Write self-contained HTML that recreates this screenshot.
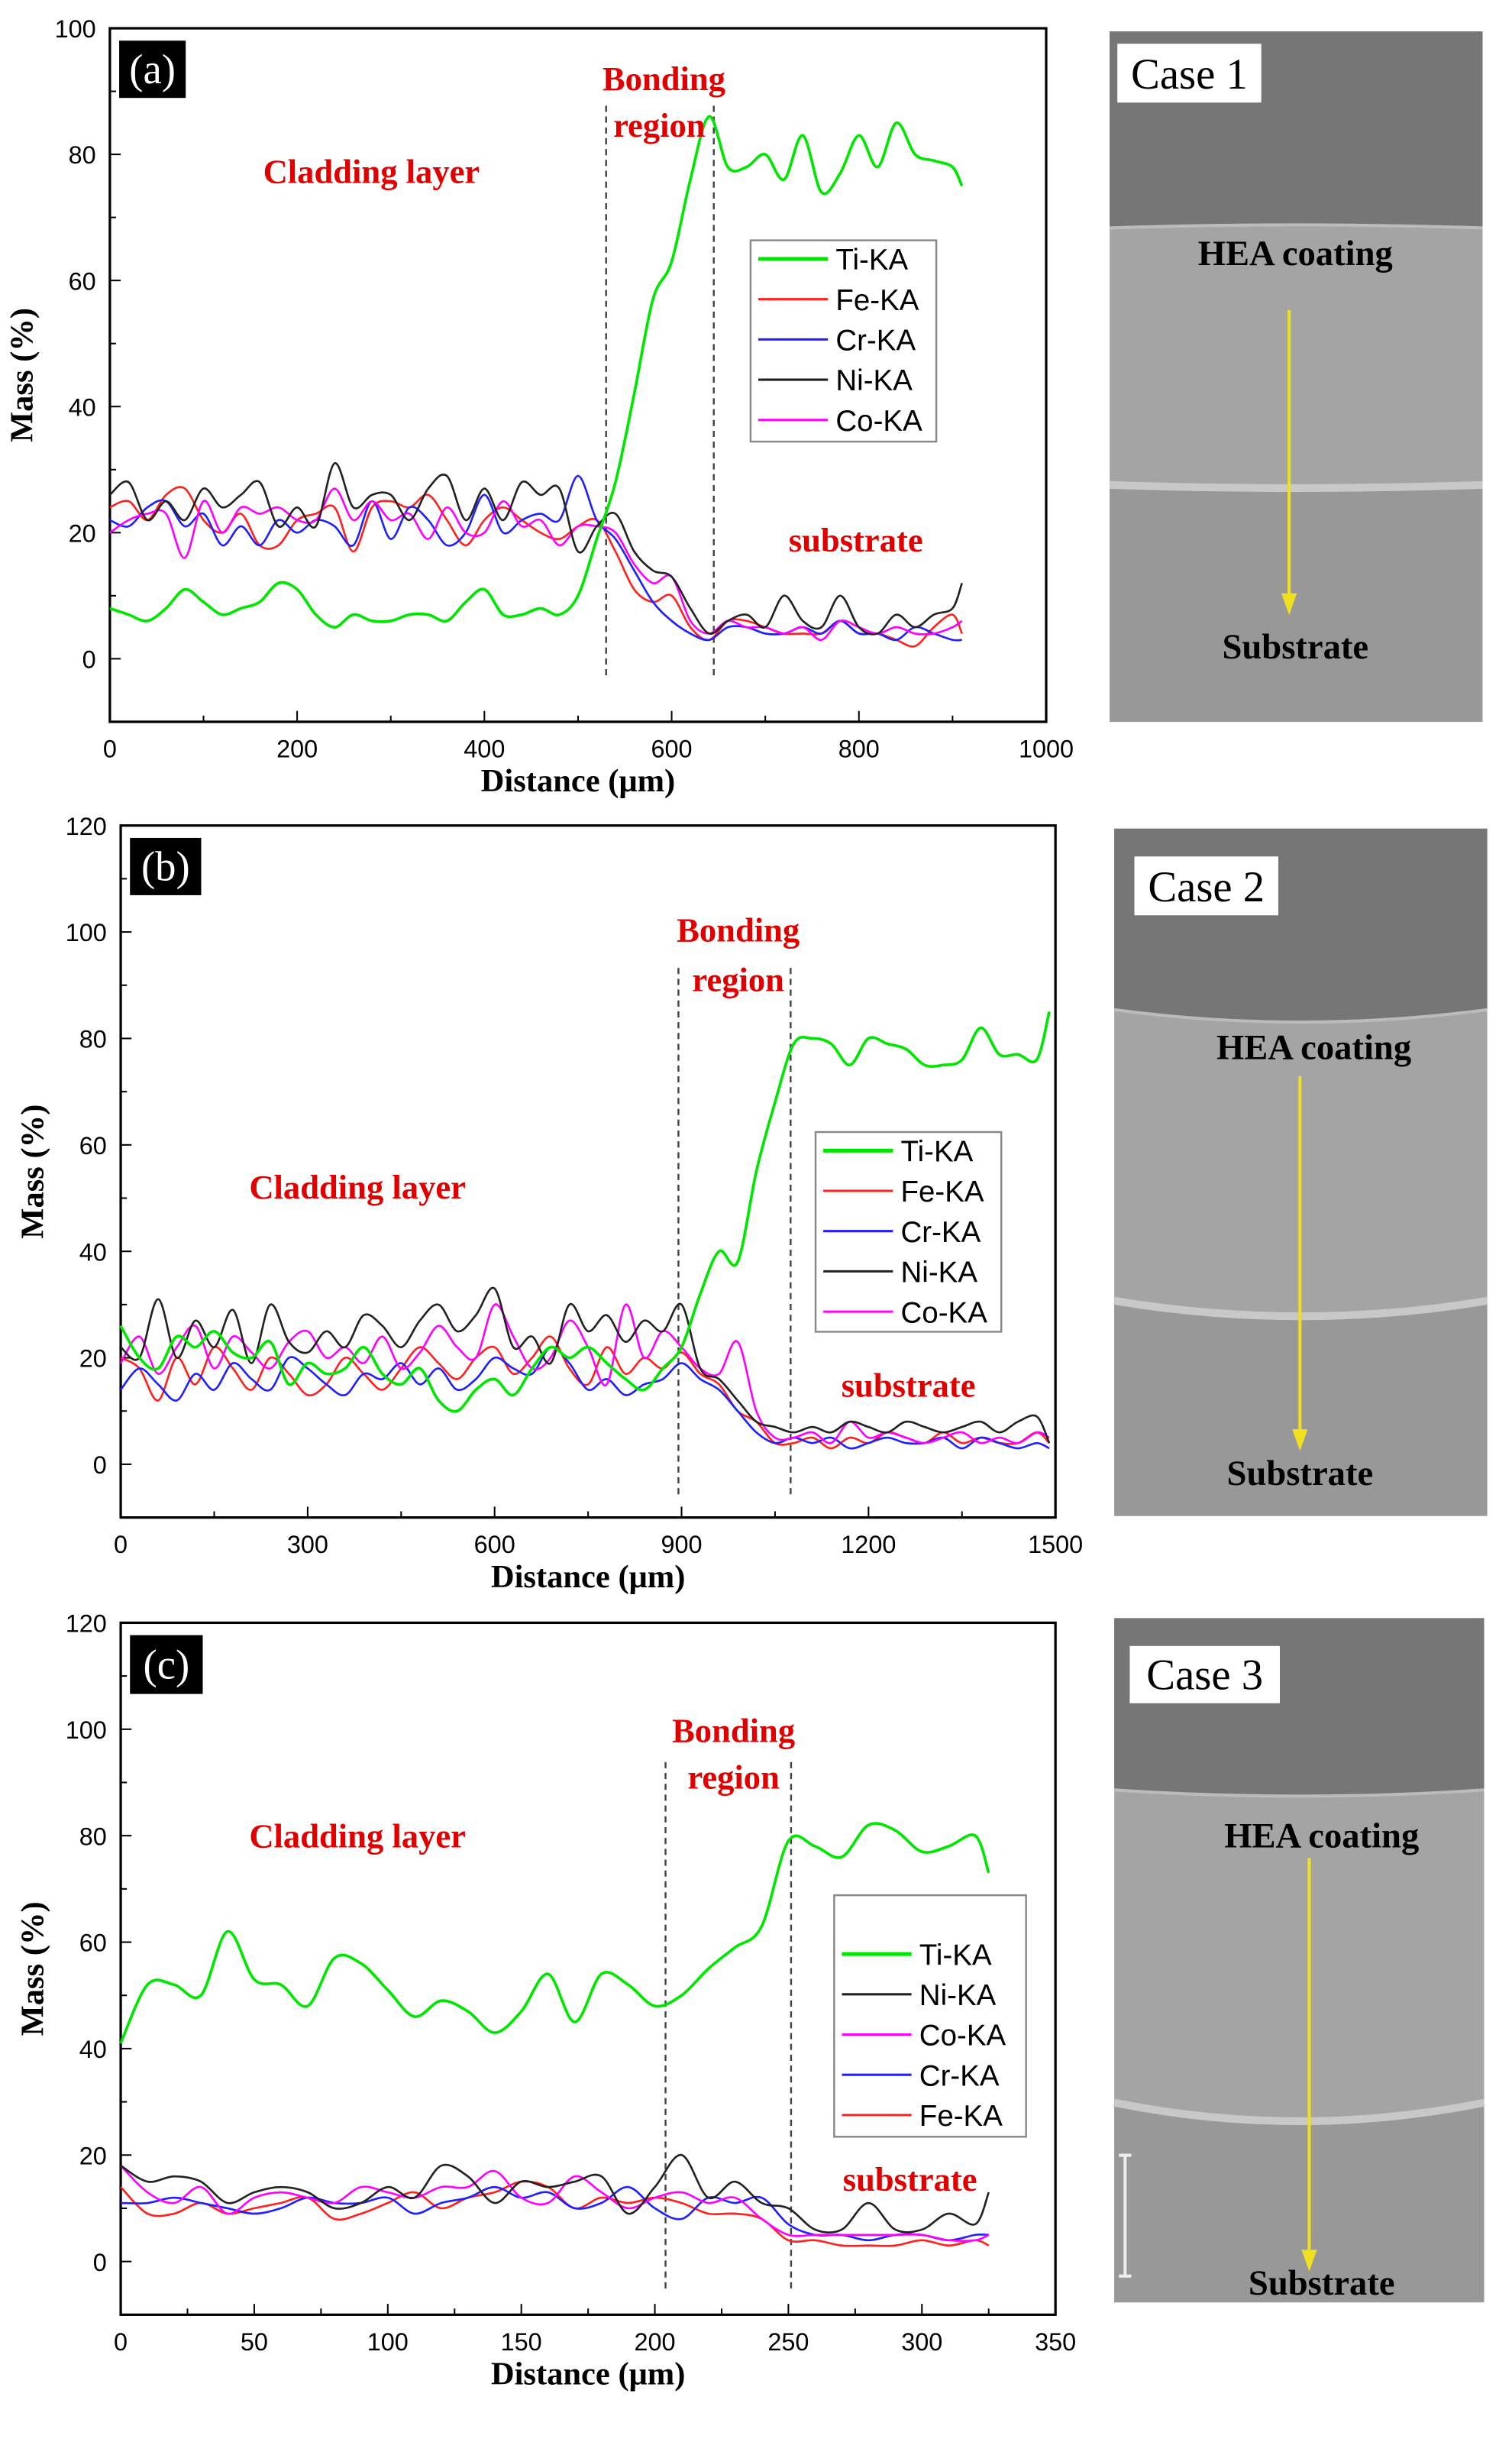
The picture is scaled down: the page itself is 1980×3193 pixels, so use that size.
<!DOCTYPE html>
<html><head><meta charset="utf-8"><style>
body{margin:0;background:#fff}
svg{display:block}
.tk{font-family:"Liberation Sans",sans-serif;font-size:16px;fill:#000}
.ttl{font-family:"Liberation Serif",serif;font-weight:bold;font-size:21px;fill:#000}
.ann{font-family:"Liberation Serif",serif;font-weight:bold;font-size:22px;fill:#e00000}
.lg{font-family:"Liberation Sans",sans-serif;font-size:19px;fill:#000}
.ph{font-family:"Liberation Serif",serif;font-weight:bold;font-size:23px;fill:#000}
.cs{font-family:"Liberation Serif",serif;font-size:28px;fill:#000}
</style></head><body>
<svg id="fig" width="1980" height="3193" viewBox="0 0 977 1575" xmlns="http://www.w3.org/2000/svg">
</svg>
<script>
const NS="http://www.w3.org/2000/svg";
const svg=document.getElementById('fig');
function mk(tag,attrs,parent,txt){const e=document.createElementNS(NS,tag);for(const k in attrs)e.setAttribute(k,attrs[k]);if(txt!==undefined)e.textContent=txt;(parent||svg).appendChild(e);return e;}

// ---------- Panel (a) data ----------
const xA=[0,20,40,60,80,100,120,140,160,180,200,220,240,260,280,300,320,340,360,380,400,420,440,460,480,500,520,540,560,580,600,620,640,660,680,700,720,740,760,780,800,820,840,860,880,900,910];
const tiA=[8,7,6,8,11,9,7,8,9,12,11,7,5,7,6,6,7,7,6,9,11,7,7,8,7,10,19,28,42,57,63,76,86,78,78,80,76,83,74,77,83,78,85,80,79,78,75];
const feA=[24,25,22,26,27,22,20,23,18,18,22,23,24,17,24,25,24,26,22,18,22,24,22,20,19,21,22,17,11,9,10,5,3,6,6,5,4,4,4,6,4,4,3,2,5,7,4];
const crA=[22,21,24,25,21,23,18,21,18,22,20,22,21,18,25,19,24,22,18,20,26,20,22,23,22,29,22,19,14,9,6,4,3,5,5,4,4,5,4,6,4,4,3,5,4,3,3];
const niA=[26,28,22,25,22,27,24,26,28,21,24,21,31,24,26,26,22,27,29,22,27,22,28,26,27,17,21,23,17,14,13,8,4,6,7,5,10,6,5,10,5,4,7,5,7,8,12];
const coA=[20,22,23,23,16,25,20,24,23,24,22,22,27,22,25,22,23,19,24,20,20,25,21,22,18,21,21,20,15,12,13,6,4,6,5,5,4,5,3,6,5,4,5,4,4,5,6];
const xTicksA=[0,200,400,600,800,1000];
const yTicksA=[0,20,40,60,80,100];
const bondA=[530,645];

// ---------- Panel (b) data ----------
const xB=[0,30,60,90,120,150,180,210,240,270,300,330,360,390,420,450,480,510,540,570,600,630,660,690,720,750,780,810,840,870,900,930,960,990,1020,1050,1080,1110,1140,1170,1200,1230,1260,1290,1320,1350,1380,1410,1440,1470,1490];
const tiB=[26,20,18,24,22,25,21,20,23,15,19,17,18,22,17,15,18,12,10,14,16,13,18,22,20,22,19,16,14,18,22,32,40,38,55,68,79,80,79,75,80,79,78,75,75,76,82,77,77,76,85];
const feB=[20,18,12,20,15,22,18,14,20,17,13,15,20,17,14,18,22,19,16,20,22,17,20,24,18,15,22,17,20,18,21,17,15,10,8,4,4,5,3,5,4,6,5,4,6,4,5,4,4,6,4];
const crB=[14,18,15,12,17,14,19,16,14,20,18,15,13,17,16,19,15,18,14,16,20,18,17,22,19,14,16,13,15,16,19,16,14,10,6,4,5,4,5,3,4,5,4,4,5,3,5,4,3,4,3];
const niB=[22,20,31,20,27,22,29,19,30,23,21,25,22,28,26,22,27,30,25,28,33,22,24,19,30,25,28,23,27,25,30,18,16,12,8,7,6,7,6,8,7,6,8,7,6,7,8,6,8,9,4];
const coB=[19,24,17,22,26,18,24,21,18,23,25,20,22,19,24,18,21,26,22,20,30,24,18,20,27,22,15,30,20,25,22,18,17,23,10,5,5,6,4,8,5,6,5,4,5,6,4,5,4,6,5];
const xTicksB=[0,300,600,900,1200,1500];
const yTicksB=[0,20,40,60,80,100,120];
const bondB=[895,1075];

// ---------- Panel (c) data ----------
const xC=[0,10,20,30,40,50,60,70,80,90,100,110,120,130,140,150,160,170,180,190,200,210,220,230,240,250,260,270,280,290,300,310,320,325];
const tiC=[41,52,52,50,62,53,52,48,57,56,51,46,49,47,43,47,54,45,54,52,48,50,55,59,63,79,78,76,82,81,77,78,80,73];
const niC=[18,15,16,15,11,13,14,13,10,11,14,12,18,16,11,15,14,15,16,9,14,20,12,15,11,10,6,6,11,6,6,9,7,13];
const coC=[18,13,11,14,9,12,13,12,11,14,13,12,14,14,17,12,11,16,13,10,12,13,11,12,8,5,5,5,5,5,5,4,4,5];
const crC=[11,11,12,11,10,9,10,12,11,11,12,9,11,12,14,12,13,10,11,14,10,8,12,11,12,7,5,5,4,5,5,4,5,5];
const feC=[14,9,9,11,9,10,11,12,8,9,11,13,10,12,13,15,14,10,12,11,12,11,9,9,8,4,4,3,3,3,4,3,4,3];
const xTicksC=[0,50,100,150,200,250,300,350];
const yTicksC=[0,20,40,60,80,100,120];
const bondC=[204,251];

const COL={Ti:"#00e600",Fe:"#ff2020",Cr:"#2020ff",Ni:"#222222",Co:"#ff00ff"};

function smoothPath(pts){
  let d="M"+pts[0][0].toFixed(1)+","+pts[0][1].toFixed(1);
  for(let i=0;i<pts.length-1;i++){
    const p0=pts[Math.max(0,i-1)],p1=pts[i],p2=pts[i+1],p3=pts[Math.min(pts.length-1,i+2)];
    const c1=[p1[0]+(p2[0]-p0[0])/6,p1[1]+(p2[1]-p0[1])/6],c2=[p2[0]-(p3[0]-p1[0])/6,p2[1]-(p3[1]-p1[1])/6];
    d+=" C"+c1[0].toFixed(1)+","+c1[1].toFixed(1)+" "+c2[0].toFixed(1)+","+c2[1].toFixed(1)+" "+p2[0].toFixed(1)+","+p2[1].toFixed(1);
  }
  return d;
}

function panel(cfg){
  const g=mk('g',{});
  
  
  const L=cfg.L,R=cfg.R,T=cfg.T,B=cfg.B;
  const sx=v=>L+(v-cfg.xmin)/(cfg.xmax-cfg.xmin)*(R-L);
  const sy=v=>B-(v-cfg.ymin)/(cfg.ymax-cfg.ymin)*(B-T);
  const frame=mk('rect',{x:L,y:T,width:R-L,height:B-T,fill:'none',stroke:'#000','stroke-width':1.6},g);
  
  cfg.xt.forEach((v,i)=>{
    const x=sx(v);
    mk('line',{x1:x,y1:B,x2:x,y2:B-7,stroke:'#000','stroke-width':1},g);
    if(i<cfg.xt.length-1){const xm=sx((v+cfg.xt[i+1])/2);mk('line',{x1:xm,y1:B,x2:xm,y2:B-4,stroke:'#000','stroke-width':1},g);}
    const t=mk('text',{x:x,y:B+23,'text-anchor':'middle',class:'tk'},g,String(v));
    
  });
  cfg.yt.forEach((v,i)=>{
    const y=sy(v);
    mk('line',{x1:L,y1:y,x2:L+7,y2:y,stroke:'#000','stroke-width':1},g);
    if(i<cfg.yt.length-1){const ym=sy((v+cfg.yt[i+1])/2);mk('line',{x1:L,y1:ym,x2:L+4,y2:ym,stroke:'#000','stroke-width':1},g);}
    const t=mk('text',{x:L-9,y:y+6,'text-anchor':'end',class:'tk'},g,String(v));
    
  });
  const xtitle=mk('text',{x:(L+R)/2,y:B+45,'text-anchor':'middle',class:'ttl'},g,'Distance (μm)');
  
  const yx=L-50,yy=(T+B)/2;
  const ytitle=mk('text',{x:yx,y:yy,'text-anchor':'middle',class:'ttl',transform:`rotate(-90 ${yx} ${yy})`},g,'Mass (%)');
  
  cfg.bond.forEach(v=>{
    const l=mk('line',{x1:sx(v),y1:cfg.bondTop,x2:sx(v),y2:cfg.bondBot,stroke:'#444','stroke-width':1.2,'stroke-dasharray':'4,3'},g);
    
  });
  cfg.series.forEach(s=>{
    const pts=cfg.x.map((xv,i)=>[sx(xv),sy(s.v[i])]);
    const p=mk('path',{d:smoothPath(pts),fill:'none',stroke:COL[s.n],'stroke-width':s.n==='Ti'?1.8:1.3},g);
    
  });
  const lb=mk('rect',{x:cfg.lab[0],y:cfg.lab[1],width:cfg.lab[2],height:cfg.lab[3],fill:'#000'},g);
  
  const lt=mk('text',{x:cfg.lab[0]+cfg.lab[2]/2,y:cfg.lab[1]+cfg.lab[3]/2+9,'text-anchor':'middle',fill:'#fff','font-family':'Liberation Serif, serif','font-size':27},g,'('+cfg.id+')');
  
  cfg.ann.forEach(a=>{
    const t=mk('text',{x:a[1],y:a[2],'text-anchor':'middle',class:'ann'},g,a[0]);
    
  });
  const lg=cfg.leg;
  const lr=mk('rect',{x:lg[0],y:lg[1],width:lg[2],height:lg[3],fill:'#fff',stroke:'#888','stroke-width':1.2},g);
  
  cfg.legOrder.forEach((n,i)=>{
    const y=lg[4]+i*lg[5];
    const ll=mk('line',{x1:lg[0]+5,y1:y,x2:lg[0]+50,y2:y,stroke:COL[n],'stroke-width':n==='Ti'?2.5:1.5},g);
    
    const t=mk('text',{x:lg[0]+55,y:y+7,class:'lg'},g,n+'-KA');
    
  });
}

panel({id:'a',L:71,R:676,T:18,B:466,xmin:0,xmax:1000,ymin:-10,ymax:100,x:xA,xt:xTicksA,yt:yTicksA,bond:bondA,bondTop:68,bondBot:437,
  series:[{n:'Fe',v:feA},{n:'Cr',v:crA},{n:'Co',v:coA},{n:'Ni',v:niA},{n:'Ti',v:tiA}],
  lab:[77,26,43,37],ann:[['Bonding',429,58,'bonding-label'],['region',426,88,'region-label'],['Cladding layer',240,118,'cladding-label'],['substrate',553,356,'substrate-label']],
  leg:[485,155,120,130,167,26],legOrder:['Ti','Fe','Cr','Ni','Co']});
panel({id:'b',L:78,R:682,T:533,B:980,xmin:0,xmax:1500,ymin:-10,ymax:120,x:xB,xt:xTicksB,yt:yTicksB,bond:bondB,bondTop:625,bondBot:965,
  series:[{n:'Fe',v:feB},{n:'Cr',v:crB},{n:'Co',v:coB},{n:'Ni',v:niB},{n:'Ti',v:tiB}],
  lab:[84,541,46,37],ann:[['Bonding',477,608,'bonding-label'],['region',477,640,'region-label'],['Cladding layer',231,774,'cladding-label'],['substrate',587,902,'substrate-label']],
  leg:[527,731,120,129,743,26],legOrder:['Ti','Fe','Cr','Ni','Co']});
panel({id:'c',L:78,R:682,T:1048,B:1495,xmin:0,xmax:350,ymin:-10,ymax:120,x:xC,xt:xTicksC,yt:yTicksC,bond:bondC,bondTop:1138,bondBot:1478,
  series:[{n:'Fe',v:feC},{n:'Cr',v:crC},{n:'Co',v:coC},{n:'Ni',v:niC},{n:'Ti',v:tiC}],
  lab:[84,1056,47,38],ann:[['Bonding',474,1125,'bonding-label'],['region',474,1155,'region-label'],['Cladding layer',231,1193,'cladding-label'],['substrate',588,1415,'substrate-label']],
  leg:[539,1224,124,156,1262,26],legOrder:['Ti','Ni','Co','Cr','Fe']});

// ---------- micrographs ----------
function photo(p){
  const g=mk('g',{});
  
  
  mk('rect',{x:p.x,y:p.y,width:p.w,height:p.h,fill:'#a4a4a4'},g);
  mk('path',{d:`M${p.x},${p.y} H${p.x+p.w} V${p.b1+p.c1} Q${p.x+p.w/2},${p.b1-p.c1} ${p.x},${p.b1+p.c1} Z`,fill:'#767676'},g);
  mk('path',{d:`M${p.x},${p.b1+p.c1} Q${p.x+p.w/2},${p.b1-p.c1} ${p.x+p.w},${p.b1+p.c1}`,fill:'none',stroke:'#bbb','stroke-width':2},g);
  mk('path',{d:`M${p.x},${p.b2-p.c2} Q${p.x+p.w/2},${p.b2+p.c2} ${p.x+p.w},${p.b2-p.c2} V${p.y+p.h} H${p.x} Z`,fill:'#989898'},g);
  mk('path',{d:`M${p.x},${p.b2-p.c2} Q${p.x+p.w/2},${p.b2+p.c2} ${p.x+p.w},${p.b2-p.c2}`,fill:'none',stroke:'#c8c8c8','stroke-width':5},g);
  const cb=mk('rect',{x:p.cb[0],y:p.cb[1],width:p.cb[2],height:p.cb[3],fill:'#fff'},g);
  
  const ct=mk('text',{x:p.cb[0]+p.cb[2]/2,y:p.cb[1]+p.cb[3]-9,'text-anchor':'middle',class:'cs'},g,'Case '+p.n);
  
  const h=mk('text',{x:p.hx,y:p.hy,'text-anchor':'middle',class:'ph'},g,'HEA coating');
  
  const s=mk('text',{x:p.sx,y:p.sy,'text-anchor':'middle',class:'ph'},g,'Substrate');
  
  const ar=mk('line',{x1:p.ax,y1:p.a1,x2:p.ax,y2:p.a2-10,stroke:'#f0e020','stroke-width':2},g);
  
  mk('polygon',{points:`${p.ax-5},${p.a2-14} ${p.ax+5},${p.a2-14} ${p.ax},${p.a2}`,fill:'#f0e020'},g);
}
photo({n:1,x:717,y:20,w:241,h:446,b1:145,c1:2,b2:315,c2:2,cb:[722,28,93,38],hx:837,hy:171,sx:837,sy:425,ax:833,a1:200,a2:397});
photo({n:2,x:720,y:535,w:241,h:444,b1:660,c1:-8,b2:850,c2:10,cb:[733,553,93,38],hx:849,hy:684,sx:840,sy:959,ax:840,a1:695,a2:937});
photo({n:3,x:720,y:1045,w:239,h:442,b1:1160,c1:-4,b2:1370,c2:12,cb:[730,1063,97,37],hx:854,hy:1193,sx:854,sy:1482,ax:846,a1:1200,a2:1467});
const sb=mk('path',{d:'M723,1392 H731 M727,1392 V1470 M723,1470 H731',stroke:'#eee','stroke-width':2,fill:'none'});

</script>
</body></html>
